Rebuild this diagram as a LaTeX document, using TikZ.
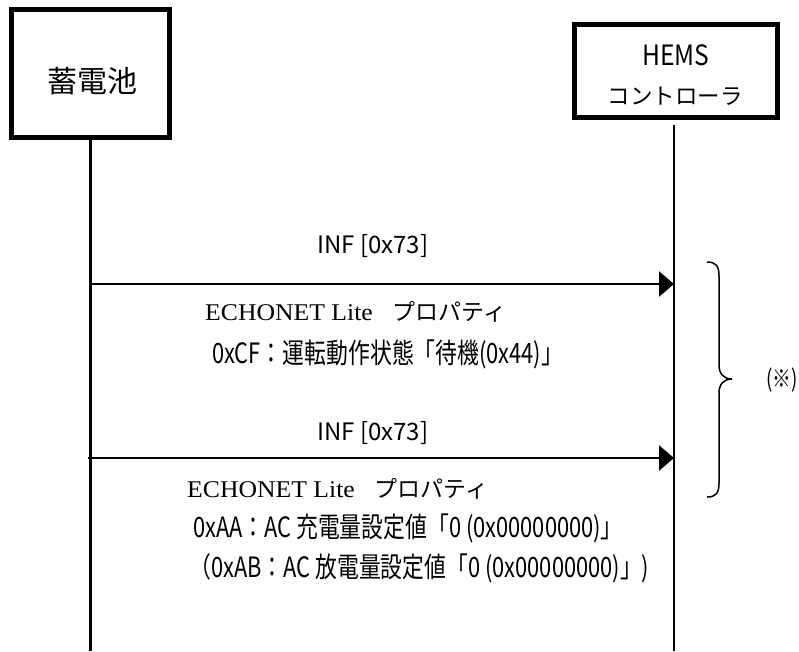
\documentclass[tikz,border=0pt]{standalone}
\usepackage{fontspec}
\setmainfont{Noto Sans CJK JP}
\newfontfamily\serif[FakeStretch=1.07]{Liberation Serif}
\newfontfamily\narrow[FakeStretch=0.78]{Noto Sans CJK JP}
\newfontfamily\hemsfont[FakeStretch=0.88]{Noto Sans CJK JP}
\usetikzlibrary{arrows.meta}
\begin{document}
\begin{tikzpicture}[x=1pt,y=-1pt,
  actor/.style={draw,line width=5pt,fill=white,inner sep=0pt},
  life/.style={line width=2.5pt},
  msg/.style={line width=2.5pt,-{Triangle[length=15pt,width=25pt]}},
  lbl/.style={inner sep=0pt,anchor=base west},
  inflbl/.style={lbl,font=\fontsize{24}{28}\selectfont},
  echlbl/.style={lbl,font=\fontsize{23}{28}\selectfont},
  proplbl/.style={lbl,font=\narrow\fontsize{28}{32}\selectfont},
  brc/.style={line width=1.5pt}]
\useasboundingbox (0,0) rectangle (799,651);
\node[actor,minimum width=158pt,minimum height=128pt] (bat) at (90.5,73.5) {};
\node[inner sep=0pt,font=\fontsize{30}{34}\selectfont] (batl) at (92,81) {蓄電池};
\node[actor,minimum width=203pt,minimum height=93pt] (hems) at (676,71) {};
\node[inner sep=0pt,font=\hemsfont\fontsize{28}{32}\selectfont] (hemsl1) at (676,55) {HEMS};
\node[inner sep=0pt,font=\fontsize{22.5}{26}\selectfont] (hemsl2) at (675,96) {コントローラ};
\coordinate (batEnd) at (90.5,651);
\coordinate (hemsTop) at (674,125);
\coordinate (hemsEnd) at (674,651);
\draw[life] (bat.south) -- (batEnd);
\draw[life] (hemsTop) -- (hemsEnd);
% message 1
\coordinate (m1s) at (90.5,284);
\coordinate (m1e) at (674,284);
\draw[msg] (m1s) -- (m1e);
\node[inflbl] (inf1) at (317,253) {INF [0x73]};
\node[echlbl] (ech1) at (205,320) {{\serif\fontsize{24}{28}\selectfont ECHONET Lite}\hspace{20pt}プロパティ};
\node[proplbl] (cf) at (212,363) {0xCF：運転動作状態「待機(0x44)」};
% message 2
\coordinate (m2s) at (88,458);
\coordinate (m2e) at (674,458);
\draw[msg] (m2s) -- (m2e);
\node[inflbl] (inf2) at (317,440) {INF [0x73]};
\node[echlbl] (ech2) at (187,497) {{\serif\fontsize{24}{28}\selectfont ECHONET Lite}\hspace{20pt}プロパティ};
\node[proplbl] (aa) at (193,537) {0xAA：AC 充電量設定値「0 (0x00000000)」};
\node[proplbl] (ab) at (189,577) {（0xAB：AC 放電量設定値「0 (0x00000000)」)};
% brace
\coordinate (bt) at (707,262);
\coordinate (bb) at (707,497);
\coordinate (btip) at (732,379);
\draw[brc] (bt) .. controls (716,262) and (719,266) .. (719,276)
  -- (719,365) .. controls (719,374) and (724,379) .. (btip)
  .. controls (724,379) and (719,384) .. (719,393)
  -- (719,483) .. controls (719,493) and (716,497) .. (bb);
\node[inner sep=0pt,font=\narrow\fontsize{24}{28}\selectfont] (note) at (782,380) {(※)};
\end{tikzpicture}
\end{document}
